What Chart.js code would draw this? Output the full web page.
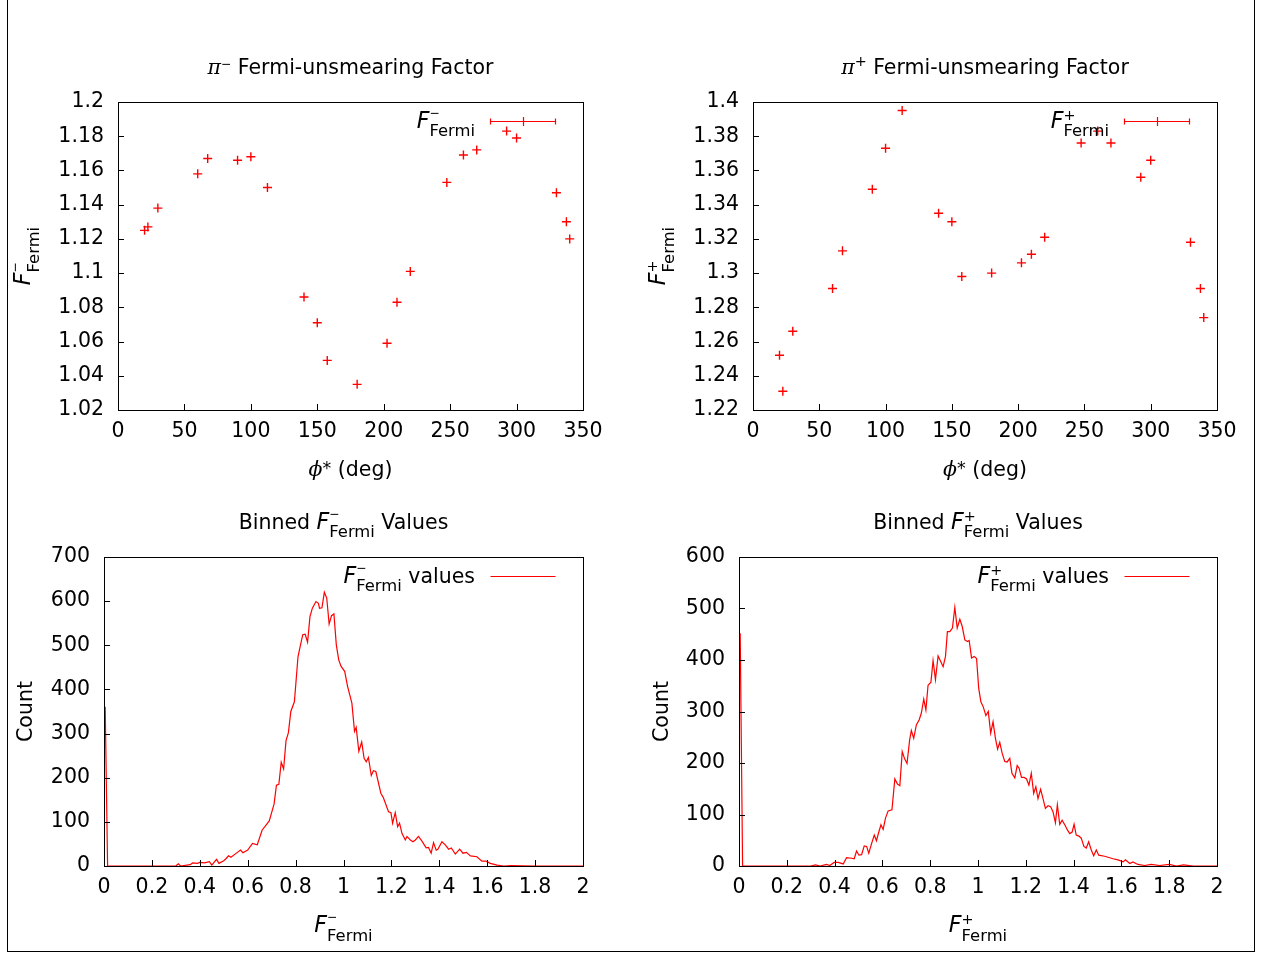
<!DOCTYPE html>
<html>
<head>
<meta charset="utf-8">
<title>Fermi-unsmearing factors</title>
<script src="https://cdn.jsdelivr.net/npm/chart.js@4.4.1/dist/chart.umd.min.js"></script>
<style>
  html, body { margin: 0; padding: 0; background: #fff; }
  #page { position: relative; width: 1261px; height: 953px; overflow: hidden; background: #fff; }
  #frame { position: absolute; left: 7px; top: -2px; width: 1248px; height: 954px; border: 1px solid #000; box-sizing: border-box; }
  canvas { position: absolute; }
</style>
</head>
<body>
<div id="page">
  <div id="frame"></div>
  <canvas id="piMinus" width="630" height="490" style="left:0;top:0"></canvas>
  <canvas id="piPlus" width="631" height="490" style="left:630px;top:0"></canvas>
  <canvas id="histMinus" width="630" height="463" style="left:0;top:490px"></canvas>
  <canvas id="histPlus" width="631" height="463" style="left:630px;top:490px"></canvas>
</div>
<script>
const TXT = 20.5;
const SANS = '"DejaVu Sans", sans-serif';
const SERIF = '"DejaVu Serif", serif';
const RED = '#ff0000';

// phi* bin centres (deg)
const phiBins = [20, 22.5, 30, 60, 67.5, 90, 100, 112.5, 140, 150, 157.5, 180,
                 202.5, 210, 220, 247.5, 260, 270, 292.5, 300, 330, 337.5, 340];
const fermiMinus = [1.125, 1.127, 1.138, 1.158, 1.167, 1.166, 1.168, 1.150, 1.086, 1.071, 1.049, 1.035,
                    1.059, 1.083, 1.101, 1.153, 1.169, 1.172, 1.183, 1.179, 1.147, 1.130, 1.120];
const fermiPlus = [1.252, 1.231, 1.266, 1.291, 1.313, 1.349, 1.373, 1.395, 1.335, 1.330, 1.298, 1.300,
                   1.306, 1.311, 1.321, 1.376, 1.383, 1.376, 1.356, 1.366, 1.318, 1.291, 1.274];

// binned F_Fermi values, pi-
const histMinusX = [0.005, 0.015, 0.3, 0.31, 0.32, 0.36, 0.37, 0.39, 0.40, 0.42, 0.44, 0.45, 0.47, 0.48, 0.50,
  0.51, 0.52, 0.53, 0.55, 0.57, 0.58, 0.60, 0.62, 0.64, 0.66, 0.69, 0.71, 0.72, 0.73, 0.74, 0.75, 0.76,
  0.77, 0.78, 0.795, 0.81, 0.82, 0.83, 0.84, 0.85, 0.86, 0.87, 0.885, 0.895, 0.90, 0.91, 0.92, 0.93,
  0.94, 0.95, 0.96, 0.97, 0.98, 0.99, 1.005, 1.017, 1.035, 1.046, 1.053, 1.064, 1.076, 1.086, 1.095,
  1.104, 1.116, 1.125, 1.135, 1.156, 1.167, 1.188, 1.198, 1.205, 1.216, 1.226, 1.234, 1.244, 1.258,
  1.265, 1.279, 1.29, 1.30, 1.313, 1.327, 1.345, 1.355, 1.366, 1.376, 1.387, 1.394, 1.411, 1.425,
  1.439, 1.45, 1.467, 1.485, 1.499, 1.513, 1.53, 1.557, 1.578, 1.595, 1.613, 1.641, 1.669, 1.7, 1.8, 2.0];
const histMinusN = [361, 0, 0, 5, 0, 3, 7, 6, 8, 7, 10, 2, 15, 6, 12,
  17, 23, 20, 28, 36, 30, 36, 51, 48, 81, 102, 140, 183, 185, 235, 220, 284,
  302, 350, 372, 474, 500, 524, 525, 507, 565, 584, 599, 595, 584, 585, 620, 607,
  548, 567, 571, 501, 467, 452, 441, 407, 369, 305, 314, 260, 281, 244, 236,
  246, 205, 216, 214, 165, 154, 123, 121, 97, 121, 89, 97, 74, 59,
  67, 59, 55, 59, 67, 57, 41, 42, 29, 53, 36, 38, 55, 48,
  38, 41, 27, 38, 29, 31, 23, 21, 11, 11, 6, 2, 0, 1, 0, 0];

// binned F_Fermi values, pi+
const histPlusX = [0.005, 0.015, 0.3, 0.32, 0.34, 0.366, 0.38, 0.398, 0.415, 0.436, 0.45, 0.471, 0.482, 0.492,
  0.502, 0.513, 0.524, 0.534, 0.543, 0.555, 0.566, 0.575, 0.585, 0.594, 0.603, 0.613, 0.624, 0.640,
  0.652, 0.663, 0.673, 0.683, 0.693, 0.703, 0.714, 0.721, 0.731, 0.742, 0.754, 0.763, 0.773, 0.782,
  0.791, 0.803, 0.812, 0.822, 0.833, 0.843, 0.854, 0.864, 0.872, 0.882, 0.893, 0.903, 0.913, 0.924,
  0.934, 0.945, 0.956, 0.963, 0.973, 0.984, 0.994, 1.003, 1.012, 1.022, 1.033, 1.043, 1.053, 1.063,
  1.073, 1.082, 1.091, 1.101, 1.112, 1.122, 1.133, 1.142, 1.154, 1.164, 1.172, 1.182, 1.193, 1.203,
  1.213, 1.223, 1.233, 1.242, 1.251, 1.262, 1.272, 1.282, 1.293, 1.304, 1.314, 1.324, 1.332, 1.342,
  1.352, 1.363, 1.374, 1.384, 1.394, 1.402, 1.411, 1.422, 1.432, 1.443, 1.453, 1.463, 1.474, 1.484,
  1.495, 1.505, 1.53, 1.551, 1.565, 1.586, 1.607, 1.617, 1.635, 1.648, 1.669, 1.697, 1.725, 1.76,
  1.8, 1.83, 1.86, 1.9, 2.0];
const histPlusN = [452, 0, 0, 2, 0, 3, 1, 7, 7, 4, 16, 15, 14, 29,
  21, 22, 39, 38, 25, 44, 60, 49, 66, 80, 71, 93, 107, 109,
  169, 159, 156, 222, 208, 199, 245, 263, 248, 274, 284, 297, 324, 303,
  351, 357, 399, 362, 408, 398, 387, 407, 455, 455, 462, 502, 462, 479,
  465, 439, 436, 438, 404, 407, 403, 345, 319, 309, 292, 300, 258, 280,
  248, 227, 240, 219, 203, 202, 209, 180, 171, 195, 190, 172, 172, 169,
  157, 180, 141, 154, 131, 149, 131, 112, 117, 115, 105, 84, 119, 81,
  89, 80, 70, 63, 66, 81, 60, 58, 54, 38, 35, 47, 31, 20,
  31, 21, 19, 16, 14, 12, 8, 12, 5, 8, 3, 1, 3, 1,
  3, 0, 2, 0, 0];

// tick values
const phiTicks = [0, 50, 100, 150, 200, 250, 300, 350];
const minusTicks = [1.02, 1.04, 1.06, 1.08, 1.1, 1.12, 1.14, 1.16, 1.18, 1.2];
const plusTicks = [1.22, 1.24, 1.26, 1.28, 1.3, 1.32, 1.34, 1.36, 1.38, 1.4];
const fermiTicks = [0, 0.2, 0.4, 0.6, 0.8, 1, 1.2, 1.4, 1.6, 1.8, 2];
const countMinusTicks = [0, 100, 200, 300, 400, 500, 600, 700];
const countPlusTicks = [0, 100, 200, 300, 400, 500, 600];

// rich labels: F with stacked super/subscript
const F_MINUS = [{t: 'F', it: true, k: 1.08}, {stack: [{t: '\u2212', k: 0.6, dy: -11}, {t: 'Fermi', k: 0.8, dy: 8.5}]}];
const F_PLUS = [{t: 'F', it: true, k: 1.08}, {stack: [{t: '+', k: 0.7, dy: -8}, {t: 'Fermi', k: 0.8, dy: 8.5}]}];
const PHI_DEG = [{t: '\u03d5', it: true, serif: true}, {t: '*', k: 0.85, dy: -2}, {t: ' (deg)'}];

function fontOf(s) {
  return (s.it ? 'italic ' : '') + (TXT * (s.k || 1)) + 'px ' + (s.serif ? SERIF : SANS);
}
function segWidth(ctx, s) {
  ctx.font = fontOf(s);
  return ctx.measureText(s.t).width;
}
function partWidth(ctx, p) {
  return p.stack ? Math.max(...p.stack.map(s => segWidth(ctx, s))) : segWidth(ctx, p);
}
function drawRich(ctx, parts, x, y, align) {
  const w = parts.reduce((sum, p) => sum + partWidth(ctx, p), 0);
  let cx = align === 'center' ? x - w / 2 : align === 'right' ? x - w : x;
  ctx.textAlign = 'left';
  ctx.textBaseline = 'alphabetic';
  for (const p of parts) {
    for (const s of (p.stack || [p])) {
      ctx.font = fontOf(s);
      ctx.fillText(s.t, cx, y + (s.dy || 0));
    }
    cx += partWidth(ctx, p);
  }
}

// gnuplot-like border, inward ticks, titles and key
const gnuplotFrame = {
  id: 'gnuplotFrame',
  afterDatasetsDraw(chart, args, o) {
    const {ctx, chartArea: a} = chart;
    const xs = chart.scales.x, ys = chart.scales.y;
    ctx.save();
    ctx.strokeStyle = '#000';
    ctx.lineWidth = 1;
    ctx.beginPath();
    xs.ticks.forEach(t => {
      const p = Math.round(xs.getPixelForValue(t.value)) + 0.5;
      ctx.moveTo(p, a.bottom); ctx.lineTo(p, a.bottom - 6);
    });
    ys.ticks.forEach(t => {
      const p = Math.round(ys.getPixelForValue(t.value)) + 0.5;
      ctx.moveTo(a.left, p); ctx.lineTo(a.left + 6, p);
    });
    ctx.stroke();
    ctx.strokeRect(Math.round(a.left) + 0.5, Math.round(a.top) + 0.5,
                   Math.round(a.right - a.left), Math.round(a.bottom - a.top));

    ctx.fillStyle = '#000';
    const cx = (a.left + a.right) / 2, cy = (a.top + a.bottom) / 2;
    drawRich(ctx, o.title, cx, a.top - 28.5, 'center');
    drawRich(ctx, o.xTitle, cx, a.bottom + 66, 'center');
    ctx.save();
    ctx.translate(a.left - o.yTitleGap, cy);
    ctx.rotate(-Math.PI / 2);
    drawRich(ctx, o.yTitle, 0, 0, 'center');
    ctx.restore();

    // key: label, then a line sample (with error-bar caps for the point plots)
    const ky = Math.round(a.top + 19) + 0.5;
    drawRich(ctx, o.key, a.right - 108, ky + 6, 'right');
    const x0 = Math.round(a.right - 93) + 0.5, x1 = Math.round(a.right - 28.5) + 0.5;
    ctx.strokeStyle = RED;
    ctx.lineWidth = 1.2;
    ctx.beginPath();
    ctx.moveTo(x0, ky);
    ctx.lineTo(x1, ky);
    ctx.stroke();
    if (o.errorKey) {
      const xm = Math.round((x0 + x1) / 2) + 0.5;
      ctx.beginPath();
      ctx.moveTo(x0, ky - 3); ctx.lineTo(x0, ky + 3);
      ctx.moveTo(x1, ky - 3); ctx.lineTo(x1, ky + 3);
      ctx.moveTo(xm, ky - 4.5); ctx.lineTo(xm, ky + 4.5);
      ctx.strokeStyle = RED;
      ctx.stroke();
    }
    ctx.restore();
  }
};

function makeChart(id, opt) {
  const tickFont = {family: SANS, size: TXT};
  const fmt = v => String(+v.toFixed(2));
  return new Chart(document.getElementById(id), {
    type: opt.type,
    data: {
      datasets: [{
        data: opt.x.map((x, i) => ({x: x, y: opt.y[i]})),
        borderColor: RED,
        backgroundColor: RED,
        ...opt.style
      }]
    },
    options: {
      responsive: false,
      animation: false,
      events: [],
      layout: {padding: opt.pad},
      scales: {
        x: {
          type: 'linear',
          min: opt.xTicks[0],
          max: opt.xTicks[opt.xTicks.length - 1],
          grid: {display: false, drawTicks: false},
          border: {display: false},
          afterBuildTicks: s => { s.ticks = opt.xTicks.map(v => ({value: v})); },
          afterFit: s => { s.height = opt.xH; },
          ticks: {font: tickFont, color: '#000', padding: 9, autoSkip: false, maxRotation: 0, callback: fmt}
        },
        y: {
          type: 'linear',
          min: opt.yTicks[0],
          max: opt.yTicks[opt.yTicks.length - 1],
          grid: {display: false, drawTicks: false},
          border: {display: false},
          afterBuildTicks: s => { s.ticks = opt.yTicks.map(v => ({value: v})); },
          afterFit: s => { s.width = opt.yW; },
          ticks: {font: tickFont, color: '#000', padding: 14, autoSkip: false, callback: fmt}
        }
      },
      plugins: {
        legend: {display: false},
        title: {display: false},
        tooltip: {enabled: false},
        gnuplotFrame: opt.frame
      }
    },
    plugins: [gnuplotFrame]
  });
}

const pointStyle = {showLine: false, pointStyle: 'cross', pointRadius: 4.5, pointBorderWidth: 1.4, pointHoverRadius: 4.5};
const lineStyle = {showLine: true, pointRadius: 0, borderWidth: 1.2, tension: 0};

makeChart('piMinus', {
  type: 'scatter', x: phiBins, y: fermiMinus, style: pointStyle,
  xTicks: phiTicks, yTicks: minusTicks,
  pad: {left: 0, top: 102, right: 47, bottom: 0}, yW: 118, xH: 80,
  frame: {
    title: [{t: '\u03c0', it: true, serif: true}, {t: '\u2212', k: 0.6, dy: -6}, {t: ' Fermi-unsmearing Factor'}],
    xTitle: PHI_DEG, yTitle: F_MINUS, yTitleGap: 88, key: F_MINUS, errorKey: true
  }
});

makeChart('piPlus', {
  type: 'scatter', x: phiBins, y: fermiPlus, style: pointStyle,
  xTicks: phiTicks, yTicks: plusTicks,
  pad: {left: 0, top: 102, right: 44, bottom: 0}, yW: 123, xH: 80,
  frame: {
    title: [{t: '\u03c0', it: true, serif: true}, {t: '+', k: 0.7, dy: -8}, {t: ' Fermi-unsmearing Factor'}],
    xTitle: PHI_DEG, yTitle: F_PLUS, yTitleGap: 88, key: F_PLUS, errorKey: true
  }
});

makeChart('histMinus', {
  type: 'scatter', x: histMinusX, y: histMinusN, style: lineStyle,
  xTicks: fermiTicks, yTicks: countMinusTicks,
  pad: {left: 0, top: 67, right: 47, bottom: 0}, yW: 104, xH: 87,
  frame: {
    title: [{t: 'Binned '}, ...F_MINUS, {t: ' Values'}],
    xTitle: F_MINUS, yTitle: [{t: 'Count'}], yTitleGap: 72, key: [...F_MINUS, {t: ' values'}], errorKey: false
  }
});

makeChart('histPlus', {
  type: 'scatter', x: histPlusX, y: histPlusN, style: lineStyle,
  xTicks: fermiTicks, yTicks: countPlusTicks,
  pad: {left: 0, top: 67, right: 44, bottom: 0}, yW: 109, xH: 87,
  frame: {
    title: [{t: 'Binned '}, ...F_PLUS, {t: ' Values'}],
    xTitle: F_PLUS, yTitle: [{t: 'Count'}], yTitleGap: 71, key: [...F_PLUS, {t: ' values'}], errorKey: false
  }
});
</script>
</body>
</html>
